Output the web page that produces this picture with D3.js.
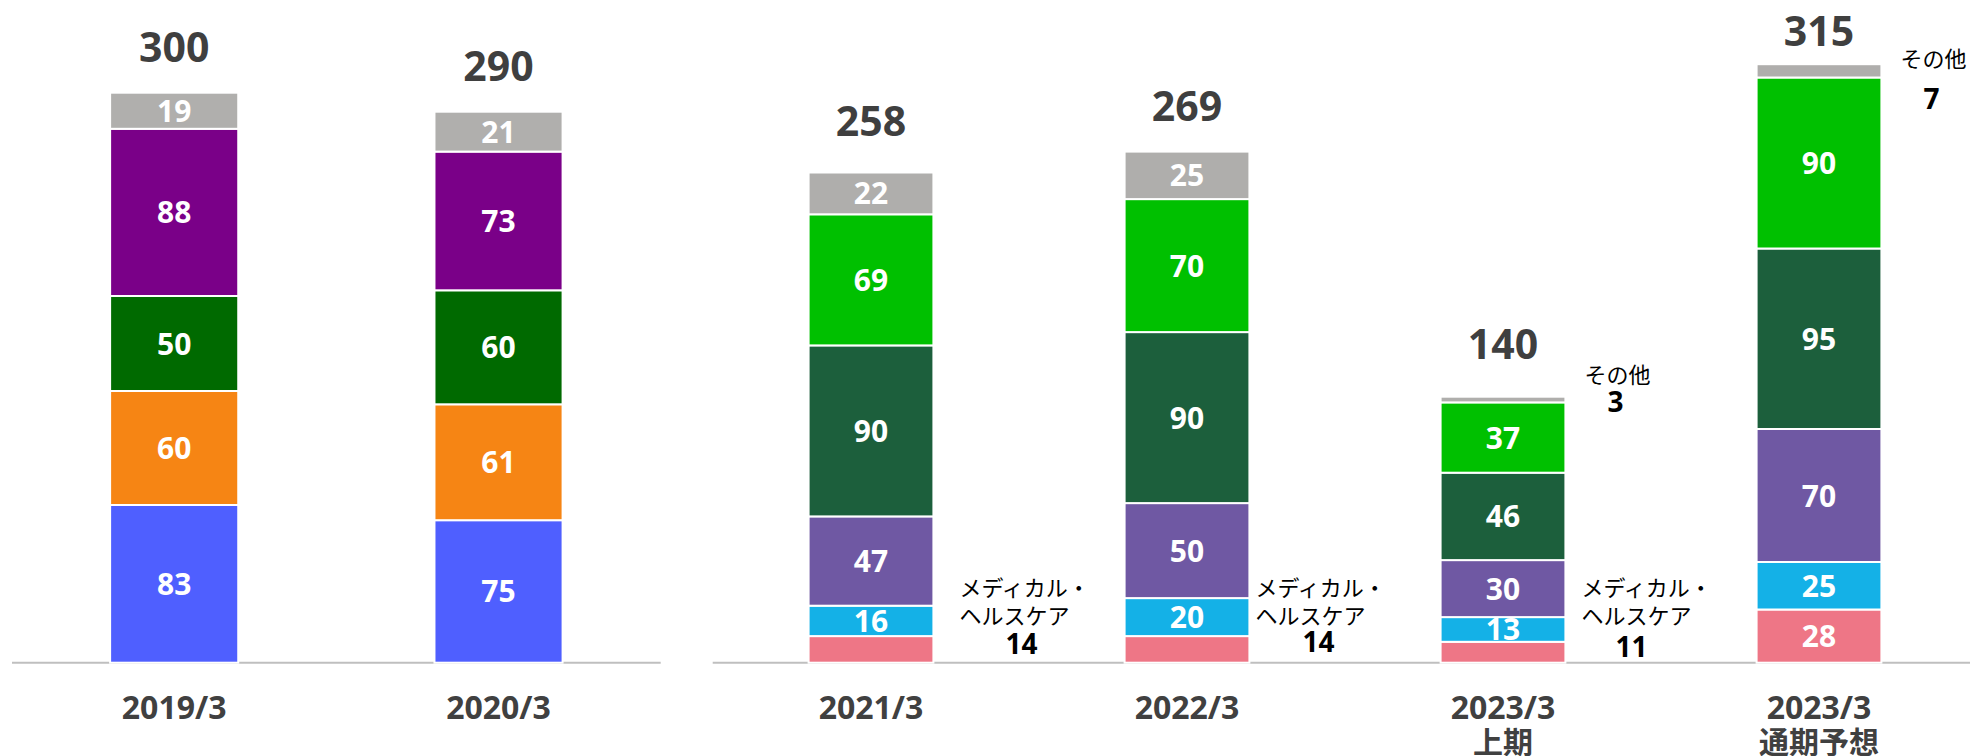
<!DOCTYPE html>
<html>
  <head>
    <meta charset="utf-8">
    <title>Segment sales</title>
    <script src="https://cdn.jsdelivr.net/npm/d3@7"></script>
    <style>
      body { margin: 0; background: #fff; }
      text { font-family: "Open Sans", "Noto Sans CJK JP", sans-serif; }
    </style>
  </head>
  <body>
    <svg id="chart" width="1970" height="756"></svg>
    <script>
      // left block (old segments)
      const leftCats = ["2019/3", "2020/3"];
      const leftBlue = [83, 75];
      const leftOrange = [60, 61];
      const leftGreen = [50, 60];
      const leftPurple = [88, 73];
      const leftOther = [19, 21];
      const leftTotals = [300, 290];

      // right block (new segments)
      const rightCats = ["2021/3", "2022/3", "2023/3 上期", "2023/3 通期予想"];
      const rightMedical = [14, 14, 11, 28];
      const rightCyan = [16, 20, 13, 25];
      const rightViolet = [47, 50, 30, 70];
      const rightDark = [90, 90, 46, 95];
      const rightGreen = [69, 70, 37, 90];
      const rightOther = [22, 25, 3, 7];
      const rightTotals = [258, 269, 140, 315];

      // values written beside the bar instead of inside
      const medicalNoteCats = ["2021/3", "2022/3", "2023/3 上期"];
      const otherNoteCats = ["2023/3 上期", "2023/3 通期予想"];

      const svg = d3.select("#chart");
      const y = d3.scaleLinear().domain([0, 300]).range([662.7, 92.7]);

      function drawBlock(opts) {
        const { cats, keys, series, colors, totals, range, axisRange, totalGap } = opts;
        const rows = cats.map((c, i) => {
          const r = { cat: c };
          keys.forEach((k, j) => (r[k] = series[j][i]));
          return r;
        });
        const x = d3.scaleBand().domain(cats).range(range).paddingInner(0.605).paddingOuter(0.3025);
        const stack = d3.stack().keys(keys)(rows);
        const g = svg.append("g");

        // base line
        g.append("line")
          .attr("x1", axisRange[0]).attr("x2", axisRange[1])
          .attr("y1", y(0)).attr("y2", y(0))
          .attr("stroke", "#bfbfbf").attr("stroke-width", 2);

        const layer = g.selectAll("g.layer").data(stack).enter().append("g")
          .attr("fill", (d, i) => colors[i]);
        layer.selectAll("rect").data((d) => d).enter().append("rect")
          .attr("x", (d) => x(d.data.cat))
          .attr("width", x.bandwidth())
          .attr("y", (d) => y(d[1]))
          .attr("height", (d) => y(d[0]) - y(d[1]))
          .attr("stroke", "#fff").attr("stroke-width", 2);

        // values inside segments
        stack.forEach((s) => {
          g.selectAll(null).data(s.filter((d) => !opts.hide(s.key, d.data.cat))).enter().append("text")
            .attr("x", (d) => x(d.data.cat) + x.bandwidth() / 2)
            .attr("y", (d) => (y(d[0]) + y(d[1])) / 2 + 11)
            .attr("text-anchor", "middle")
            .attr("fill", "#fff").attr("font-weight", 700).attr("font-size", 30)
            .text((d) => d.data[s.key]);
        });

        // totals
        g.selectAll(null).data(rows).enter().append("text")
          .attr("x", (d) => x(d.cat) + x.bandwidth() / 2)
          .attr("y", (d, i) => y(totals[i]) - totalGap[i])
          .attr("text-anchor", "middle")
          .attr("fill", "#3f3f3f").attr("font-weight", 700).attr("font-size", 41)
          .text((d, i) => totals[i]);

        // category labels
        const cl = g.selectAll(null).data(cats).enter().append("text")
          .attr("x", (d) => x(d) + x.bandwidth() / 2)
          .attr("text-anchor", "middle")
          .attr("fill", "#404040").attr("font-weight", 700).attr("font-size", 32);
        cl.append("tspan").attr("x", (d) => x(d) + x.bandwidth() / 2).attr("y", 719)
          .text((d) => d.split(" ")[0]);
        cl.append("tspan").attr("x", (d) => x(d) + x.bandwidth() / 2).attr("y", 753)
          .attr("font-size", 30)
          .text((d) => d.split(" ")[1] || "");

        return { x, rows };
      }

      drawBlock({
        cats: leftCats,
        keys: ["blue", "orange", "green", "purple", "other"],
        series: [leftBlue, leftOrange, leftGreen, leftPurple, leftOther],
        colors: ["#4f5fff", "#f68514", "#006a00", "#7a0088", "#b0afad"],
        totals: leftTotals,
        range: [12, 660.7],
        axisRange: [12, 660.7],
        totalGap: [31, 31],
        hide: () => false,
      });

      const right = drawBlock({
        cats: rightCats,
        keys: ["medical", "cyan", "violet", "dark", "green", "other"],
        series: [rightMedical, rightCyan, rightViolet, rightDark, rightGreen, rightOther],
        colors: ["#ee7686", "#14b1e7", "#6f58a3", "#1c5f3c", "#00c000", "#afaeac"],
        totals: rightTotals,
        range: [713, 1977],
        axisRange: [712.7, 1970],
        totalGap: [37, 31, 38, 18],
        hide: (k, c) =>
          (k === "medical" && medicalNoteCats.includes(c)) ||
          (k === "other" && otherNoteCats.includes(c)),
      });

      const xr = right.x;
      const notes = svg.append("g").attr("fill", "#000");

      // メディカル・ヘルスケア notes
      const medDx = [26, 6, 16];
      const medNumDx = [62, 63, 50];
      const medNumY = [654, 652, 657];
      medicalNoteCats.forEach((c, i) => {
        const left = xr(c) + xr.bandwidth() + medDx[i];
        const v = rightMedical[rightCats.indexOf(c)];
        notes.append("text").attr("x", left).attr("y", 596)
          .attr("font-size", 22).text("メディカル・");
        notes.append("text").attr("x", left).attr("y", 624)
          .attr("font-size", 22).text("ヘルスケア");
        notes.append("text").attr("x", left + medNumDx[i]).attr("y", medNumY[i])
          .attr("text-anchor", "middle").attr("font-weight", 700).attr("font-size", 28)
          .text(v);
      });

      // その他 notes
      const otherLabelDy = [-14, 3];
      const otherNumDy = [15, 45];
      otherNoteCats.forEach((c, i) => {
        const idx = rightCats.indexOf(c);
        const cx = xr(c) + xr.bandwidth() + 50;
        const top = y(rightTotals[idx]);
        notes.append("text").attr("x", cx + 2).attr("y", top + otherLabelDy[i])
          .attr("text-anchor", "middle").attr("font-size", 22).text("その他");
        notes.append("text").attr("x", cx).attr("y", top + otherNumDy[i])
          .attr("text-anchor", "middle").attr("font-weight", 700).attr("font-size", 28)
          .text(rightOther[idx]);
      });
    </script>
  </body>
</html>
